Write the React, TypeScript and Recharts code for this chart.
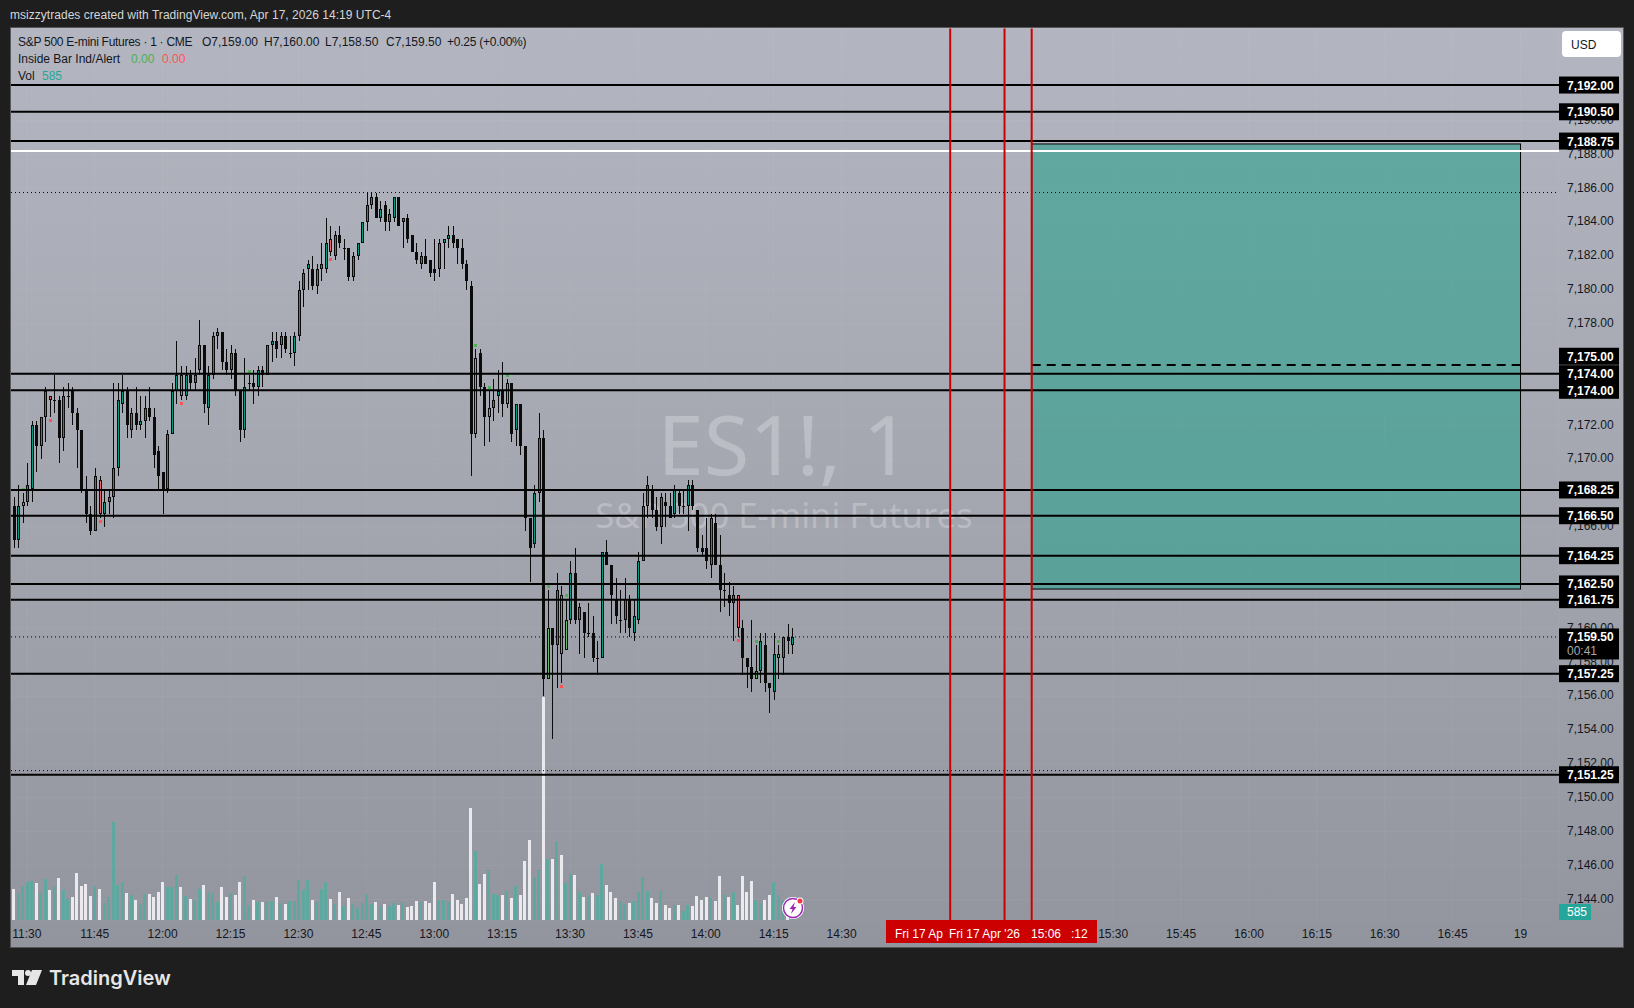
// App.tsx - ES1! one minute chart with drawn levels, volume and a position box
import { Bar, CartesianGrid, ComposedChart, ReferenceArea, ReferenceLine, XAxis, YAxis } from "recharts";

// ---- candles, 11:27 to 14:19, one value per minute ----
const opens = [
  7167.25, 7165.25, 7167.25, 7167.5, 7168.25, 7172, 7170.75, 7172.5, 7173.75, 7173.5,
  7173.5, 7171.25, 7173.75, 7174, 7172.75, 7171.75, 7168.25, 7166.75, 7165.75, 7168.75,
  7166.75, 7167.5, 7167.75, 7169.5, 7173.25, 7174, 7171.75, 7172.75, 7172, 7172.25,
  7173, 7172.5, 7170.5, 7169.25, 7168.25, 7171.5, 7174, 7175, 7173.75, 7175,
  7174.5, 7175.25, 7176.75, 7173, 7175, 7177.25, 7177.5, 7175.75, 7175.25, 7176.25,
  7174, 7171.75, 7174.5, 7174.5, 7174.25, 7175.25, 7175, 7176.75, 7177, 7176.75,
  7177.25, 7176.25, 7176.25, 7177.25, 7180, 7181.25, 7181.25, 7180.25, 7181.25, 7181.25,
  7183, 7182, 7183.25, 7182.5, 7182.5, 7180.75, 7182, 7182.75, 7184, 7185,
  7185.5, 7184.25, 7185, 7184, 7184.25, 7185.5, 7184, 7184.25, 7183.25, 7182.25,
  7181.5, 7182, 7181.75, 7181.25, 7181.25, 7182.75, 7183, 7183.25, 7183, 7182.5,
  7181.5, 7180.25, 7171.5, 7176.25, 7174.25, 7172.5, 7173, 7173.75, 7174, 7173.25,
  7174.5, 7171.75, 7173.25, 7170.75, 7166.5, 7165, 7168, 7171.25, 7157, 7160,
  7159, 7162, 7158.75, 7160.5, 7163.25, 7160.5, 7161, 7159.75, 7159.75, 7158.25,
  7158.25, 7164.5, 7163.75, 7161.75, 7160.5, 7160.5, 7161.75, 7159.75, 7160.5, 7164,
  7167.25, 7168.25, 7167, 7166, 7167.5, 7167.25, 7166.75, 7168, 7167.25, 7167.25,
  7168.5, 7167, 7164.75, 7164.75, 7163.75, 7166.25, 7163.75, 7162.25, 7162, 7161.5,
  7162, 7160, 7158.25, 7157.75, 7157, 7157.5, 7159, 7156.75, 7156.25, 7158.25,
  7158.25, 7159.5, 7159,
];
const highs = [
  7167.75, 7168.5, 7168, 7169.75, 7172.25, 7172.25, 7172.5, 7174.25, 7173.75, 7175,
  7173.75, 7174.25, 7174.5, 7174.25, 7173, 7171.75, 7169, 7167.25, 7169.5, 7169,
  7168.25, 7168.25, 7174.5, 7174.5, 7175, 7174.25, 7173, 7174.25, 7173.75, 7173.75,
  7174.25, 7173, 7170.75, 7169.25, 7171.75, 7174.5, 7177, 7175.5, 7175.5, 7175.25,
  7176, 7178.25, 7176.75, 7175.5, 7177.5, 7177.75, 7177.5, 7176.5, 7176.75, 7176.5,
  7174, 7176, 7175, 7175.25, 7175.5, 7175.5, 7176.75, 7177.5, 7177.5, 7177.5,
  7177.5, 7177.25, 7177.5, 7180.5, 7181.25, 7181.75, 7182, 7181.5, 7182.75, 7184.25,
  7183.75, 7183.5, 7183.75, 7183, 7182.5, 7182.25, 7182.75, 7184, 7185.75, 7185.75,
  7185.75, 7185.25, 7185.25, 7184.75, 7185.5, 7185.5, 7184.25, 7184.5, 7183.25, 7182.75,
  7182.25, 7183, 7181.75, 7183, 7183, 7183, 7183.75, 7183.75, 7183, 7183,
  7181.75, 7180.5, 7176.5, 7176.5, 7174.5, 7174, 7174.75, 7175.25, 7175.75, 7174.75,
  7174.5, 7173.25, 7173.25, 7170.75, 7166.5, 7168.5, 7172.75, 7171.75, 7162.25, 7160,
  7163.25, 7162.5, 7161.75, 7164, 7164.75, 7161.5, 7161, 7161.5, 7160.75, 7159.25,
  7164.5, 7165.25, 7163.75, 7163, 7162.25, 7163, 7162, 7161.75, 7164.5, 7168,
  7169, 7168.5, 7167.75, 7168, 7168, 7168, 7168.5, 7168.25, 7168.25, 7168.75,
  7168.75, 7167, 7165.5, 7166.5, 7166.75, 7166.75, 7165.5, 7163.25, 7162.75, 7162.5,
  7162, 7160.5, 7158.25, 7160.5, 7159, 7159.75, 7159.75, 7156.75, 7159.75, 7159,
  7159.5, 7160.25, 7160,
];
const lows = [
  7164.75, 7164.75, 7166.25, 7167.25, 7167.5, 7169.25, 7170, 7171, 7172.5, 7172.75,
  7169.75, 7170.5, 7173, 7172, 7169.5, 7168, 7166.25, 7165.5, 7165.75, 7166.5,
  7166, 7166.75, 7166.5, 7169, 7172.75, 7171.25, 7171.25, 7171.75, 7171.75, 7171.25,
  7172.25, 7169.5, 7168.25, 7166.75, 7168, 7171.5, 7173.25, 7173.5, 7173.5, 7174,
  7174, 7175, 7172.75, 7172, 7174.75, 7176.5, 7175.25, 7175, 7174.75, 7173.75,
  7171, 7171.25, 7174, 7173.25, 7173.75, 7174.25, 7175, 7175.75, 7176, 7176,
  7176.25, 7176, 7175.5, 7177, 7179, 7180, 7180, 7179.75, 7180.5, 7181,
  7182, 7181.75, 7182.5, 7181.75, 7180.5, 7180.5, 7181.75, 7182.75, 7183.5, 7184.75,
  7184.25, 7184, 7183.5, 7183.5, 7184, 7183.75, 7182.5, 7182.75, 7182.25, 7181.5,
  7181.25, 7181.5, 7180.75, 7180.5, 7180.75, 7181.25, 7182.5, 7182.5, 7181.5, 7181.25,
  7180, 7169, 7171.25, 7173.75, 7170.75, 7171, 7172.25, 7172.75, 7172.5, 7173,
  7171, 7170.75, 7170.25, 7165.75, 7162.75, 7164.75, 7167.5, 7156, 7157, 7153.5,
  7156.5, 7156.75, 7158.75, 7160.25, 7160.25, 7158.5, 7158.25, 7159.5, 7158, 7157.25,
  7158.25, 7163.75, 7160.25, 7160.25, 7159.75, 7159.75, 7159.5, 7159.25, 7160.25, 7164,
  7166.5, 7166.5, 7165.75, 7165, 7166, 7166.5, 7166.5, 7166.75, 7166.75, 7165.75,
  7167, 7164.5, 7164.25, 7163.5, 7163, 7163.75, 7161, 7161.25, 7160.75, 7159.25,
  7159.5, 7157.25, 7156.5, 7156.25, 7157, 7156.75, 7156.25, 7155, 7155.75, 7157,
  7157.25, 7158.5, 7158.5,
];
const closes = [
  7165.25, 7167.25, 7167.5, 7168.5, 7172, 7170.75, 7172.5, 7174, 7173.5, 7173.5,
  7171.25, 7173.75, 7173.75, 7172.75, 7171.75, 7168.25, 7166.75, 7165.75, 7169, 7166.75,
  7167.5, 7167.75, 7169.5, 7173.5, 7174, 7172, 7172.75, 7172, 7172.25, 7173,
  7172.5, 7170.25, 7169, 7168.25, 7171.5, 7174, 7175, 7173.75, 7175, 7174.5,
  7175, 7176.75, 7173.25, 7175, 7177.25, 7177.5, 7175.75, 7175.25, 7176.25, 7174,
  7171.75, 7174.25, 7174.5, 7174.25, 7175.25, 7175, 7176.75, 7177, 7176.5, 7177.25,
  7176.5, 7176.25, 7177.25, 7180, 7181, 7181.5, 7180.25, 7181.25, 7181.5, 7182.75,
  7182.25, 7183.25, 7182.75, 7182.5, 7180.75, 7182, 7182.75, 7184, 7185, 7185.5,
  7184.25, 7184.75, 7184, 7184.5, 7185.5, 7183.75, 7184.25, 7183, 7182.25, 7181.75,
  7182, 7181.5, 7181, 7181, 7182.75, 7183, 7183.25, 7182.75, 7182.5, 7181.5,
  7180.5, 7171.5, 7176, 7174.25, 7172.5, 7173, 7173.5, 7174, 7173.25, 7174.5,
  7171.5, 7173.25, 7170.75, 7166.5, 7164.75, 7168, 7171.25, 7157, 7160, 7159,
  7162.25, 7158.5, 7160.5, 7163.25, 7160.5, 7161.25, 7159.75, 7159.75, 7158.25, 7158.25,
  7164.5, 7163.75, 7162, 7160.75, 7160.5, 7161.75, 7160, 7160.75, 7164, 7167.25,
  7168.5, 7167, 7166, 7167.75, 7167.25, 7166.5, 7168.25, 7167.25, 7167.25, 7168.5,
  7167.25, 7164.75, 7164.5, 7164, 7166.5, 7163.75, 7162.25, 7162.25, 7161.5, 7162,
  7160, 7158.25, 7157.75, 7157, 7157.5, 7159.25, 7156.75, 7156.5, 7158.5, 7158.5,
  7159.5, 7159.25, 7159.5,
];
const volumes = [
  2790, 2430, 3060, 3420, 3510, 3330, 2430, 3690, 2700, 3060,
  3780, 2700, 1890, 2070, 4230, 3060, 3240, 2160, 3060, 2790,
  1530, 2070, 8820, 3150, 3420, 2430, 2250, 1800, 1440, 2340,
  2340, 2070, 2520, 3420, 2970, 2970, 4050, 2970, 2160, 1890,
  1800, 2790, 3150, 2520, 2430, 1620, 2970, 2070, 2430, 2250,
  3420, 3960, 1260, 1800, 1620, 1620, 1620, 1710, 2070, 1530,
  1440, 1710, 1710, 3600, 2700, 3600, 1800, 1620, 2790, 3420,
  1890, 1440, 2520, 1260, 1980, 1440, 1080, 1530, 2340, 1440,
  1620, 1170, 1440, 1260, 1530, 1350, 1620, 1170, 1260, 1710,
  1620, 1710, 1530, 3420, 1800, 1800, 1620, 2340, 1800, 1440,
  1980, 10080, 6210, 3240, 4140, 4500, 2340, 2250, 2250, 2610,
  1980, 3060, 2250, 5310, 7200, 3870, 4500, 20070, 5490, 5490,
  7110, 5850, 3330, 4140, 4050, 2520, 2070, 2160, 2430, 2250,
  5040, 3150, 2520, 1980, 1710, 1440, 1530, 1710, 2520, 3870,
  2610, 1980, 1530, 2610, 1350, 1080, 1350, 1350, 810, 1350,
  1260, 2160, 1800, 2070, 1980, 1710, 3960, 2250, 2070, 2520,
  1350, 3960, 2520, 3510, 1800, 1530, 1800, 2250, 3420, 2250,
  1800, 600, 585,
];

// inside bar indicator hits, as candle positions
const greenSignals = [2, 52, 102, 105, 109, 118, 122, 164, 169];
const redSignals = [8, 19, 37, 70, 121, 160];

// ---- axes. 14:45 to 15:15 sit under the red time tags, and the prices left out sit under level tags ----
const timeTicks = [
  "11:30", "11:45", "12:00", "12:15", "12:30", "12:45", "13:00", "13:15", "13:30", "13:45", "14:00",
  "14:15", "14:30", "15:30", "15:45", "16:00", "16:15", "16:30", "16:45", "17:00",
];
const priceTicks = [
  7144, 7146, 7148, 7150, 7152, 7154, 7156, 7158, 7160, 7166, 7170, 7172, 7178,
  7180, 7182, 7184, 7186, 7188, 7190,
];

// ---- drawings: where the line sits, what its tag says ----
const levelPrices = [
  7192.1, 7190.52, 7188.79, 7175.05, 7174.07, 7168.18, 7166.66, 7164.3, 7162.63, 7161.7, 7157.33, 7151.36,
];
const levelLabels = [
  "7,192.00", "7,190.50", "7,188.75", "7,174.00", "7,174.00", "7,168.25", "7,166.50", "7,164.25", "7,162.50",
  "7,161.75", "7,157.25", "7,151.25",
];
const redLineTimes = ["14:54", "15:06", "15:12"];
const whiteLine = 7188.2;
const sessionHigh = 7185.75;
const sessionLow = 7151.6;
const lastPrice = 7159.5;
const boxTop = 7188.62;
const boxBottom = 7162.33;
const boxMid = 7175.56;

const MINUTES_ON_AXIS = 342;
const START_MINUTE = 11 * 60 + 27;
const PRICE_DOMAIN = [7142.78, 7195.44];

const pad = (n: number) => String(n).padStart(2, "0");

const chartData = Array.from({ length: MINUTES_ON_AXIS }, (_, i) => {
  const m = START_MINUTE + i;
  const row: any = { t: `${pad(Math.floor(m / 60))}:${pad(m % 60)}` };
  if (i < opens.length) {
    row.o = opens[i];
    row.h = highs[i];
    row.l = lows[i];
    row.c = closes[i];
    row.range = [lows[i], highs[i]];
    row.vol = volumes[i];
    row.up = closes[i] >= opens[i];
    row.green = greenSignals.includes(i);
    row.red = redSignals.includes(i);
  }
  return row;
});

const UI_FONT = '"Liberation Sans", Arial, sans-serif';
const TEAL_BODY = "#089981";
const GREEN_BODY = "#66bb6a";
const RED_BODY = "#f0636a";

function Candle(props: any) {
  const { x, y, width, height, payload } = props;
  if (!payload || !payload.range) return null;
  const { o, h, l, c, up, green, red } = payload;
  const perPoint = height / (h - l);
  const toY = (p: number) => y + (h - p) * perPoint;
  const cx = Math.round(x + width / 2);
  const top = Math.round(toY(Math.max(o, c)));
  const bodyH = Math.max(1, Math.round(toY(Math.min(o, c))) - top);
  const fill = red ? RED_BODY : green ? GREEN_BODY : up ? TEAL_BODY : "#0b0b0b";
  return (
    <g shapeRendering="crispEdges">
      <rect x={cx} y={y} width={1} height={height} fill="#0b0b0b" />
      <rect x={cx - 1} y={top} width={3} height={bodyH} fill="#0b0b0b" />
      {bodyH > 2 && <rect x={cx} y={top + 1} width={1} height={bodyH - 2} fill={fill} />}
      {green && <polygon points={`${cx - 1},${y - 2} ${cx + 2},${y - 2} ${cx + 1.5},${y - 5} ${cx - 0.5},${y - 5}`} fill="#4caf50" />}
      {red && (
        <polygon
          points={`${cx - 1},${y + height + 2} ${cx + 2},${y + height + 2} ${cx + 1.5},${y + height + 5} ${cx - 0.5},${y + height + 5}`}
          fill="#ff5252"
        />
      )}
    </g>
  );
}

function VolumeBar(props: any) {
  const { x, y, width, height, payload } = props;
  if (!payload || payload.vol == null) return null;
  return (
    <rect
      x={Math.round(x)}
      y={y}
      width={width}
      height={height}
      fill={payload.up ? "#5fa8a0" : "#eaeaee"}
      shapeRendering="crispEdges"
    />
  );
}

// ReferenceArea runs from band edge to band edge, the box runs centre to centre
function PositionBox(props: any) {
  const halfBand = 2.26;
  return (
    <rect
      x={props.x + halfBand}
      y={props.y}
      width={props.width - 2 * halfBand}
      height={props.height}
      fill="#27a18c"
      fillOpacity={0.58}
      stroke="#000"
      strokeWidth={1}
    />
  );
}

// black tag on the price scale, hung on a reference line
const priceTag = (text: string, offset = 0, sub?: string) => (props: any) => {
  const vb = props.viewBox;
  const left = vb.x + vb.width;
  const mid = vb.y + offset;
  return (
    <g style={{ fontFamily: UI_FONT, fontSize: 12 }}>
      <rect x={left} y={mid - 8.5} width={60} height={sub ? 31 : 17} fill="#000" />
      <text x={left + 8} y={mid + 4.5} fill="#fff" fontWeight={700}>
        {text}
      </text>
      {sub && (
        <text x={left + 8} y={mid + 18.5} fill="#a8a8a8">
          {sub}
        </text>
      )}
    </g>
  );
};

function Txt({ x, y, color = "#131722", size = 12, spacing = 0, children }: any) {
  return (
    <span
      style={{
        position: "absolute",
        left: x,
        top: y - 8,
        lineHeight: "16px",
        fontSize: size,
        color,
        fontFamily: UI_FONT,
        letterSpacing: spacing,
        whiteSpace: "nowrap",
      }}
    >
      {children}
    </span>
  );
}

export default function App() {
  return (
    <div style={{ position: "absolute", left: 0, top: 0, width: 1634, height: 1008, background: "#1e1e1e", overflow: "hidden" }}>
      <style>{"html,body{margin:0;background:#1e1e1e;overflow:hidden}"}</style>

      {/* pane with watermark, under the chart */}
      <div
        style={{
          position: "absolute",
          left: 10,
          top: 27,
          width: 1612,
          height: 919,
          border: "1px solid #555",
          background: "linear-gradient(180deg,#b3b6c0 0%,#a4a6b0 50%,#93959e 100%)",
        }}
      />
      <div
        style={{
          position: "absolute",
          left: 384,
          width: 800,
          top: 391,
          textAlign: "center",
          fontFamily: '"Noto Sans", sans-serif',
          color: "rgba(255,255,255,0.25)",
          fontSize: 83,
          lineHeight: "104px",
        }}
      >
        ES1!, 1
      </div>
      <div
        style={{
          position: "absolute",
          left: 384,
          width: 800,
          top: 490,
          textAlign: "center",
          fontFamily: '"Noto Sans", sans-serif',
          color: "rgba(255,255,255,0.25)",
          fontSize: 34.7,
          lineHeight: "50px",
        }}
      >
        S&amp;P 500 E-mini Futures
      </div>

      {/* axes, box, volume and candles */}
      <div style={{ position: "absolute", left: 0, top: 0 }}>
        <ComposedChart
          width={1634}
          height={1008}
          data={chartData}
          margin={{ top: 28.5, right: 0, bottom: 61, left: 11 }}
          barCategoryGap={0}
        >
          <CartesianGrid stroke="rgba(255,255,255,0.05)" />
          <XAxis
            dataKey="t"
            type="category"
            scale="band"
            ticks={timeTicks}
            interval={0}
            height={27}
            axisLine={false}
            tickLine={false}
            tickMargin={3.5}
            tick={{ fontSize: 12, fill: "#131722", fontFamily: UI_FONT }}
            tickFormatter={(t: string) => (t === "17:00" ? "19" : t)}
          />
          <XAxis xAxisId="v" dataKey="t" type="category" scale="band" hide />
          <YAxis
            orientation="right"
            type="number"
            width={75}
            domain={PRICE_DOMAIN}
            ticks={priceTicks}
            interval={0}
            axisLine={false}
            tickLine={false}
            tickSize={0}
            tickMargin={8}
            tick={{ fontSize: 12, fill: "#131722", fontFamily: UI_FONT, dy: -1 }}
            tickFormatter={(v: number) => v.toLocaleString("en-US", { minimumFractionDigits: 2 })}
          />
          <YAxis yAxisId="v" type="number" domain={[0, 80235]} hide />

          <Bar
            xAxisId="v"
            yAxisId="v"
            dataKey="vol"
            barSize={3}
            isAnimationActive={false}
            shape={(p: any) => <VolumeBar {...p} />}
          />
          <ReferenceArea x1="15:12" x2="17:00" y1={boxBottom} y2={boxTop} shape={(p: any) => <PositionBox {...p} />} />
          <Bar dataKey="range" barSize={3} isAnimationActive={false} shape={(p: any) => <Candle {...p} />} />
        </ComposedChart>
      </div>

      {/* drawn lines and tags go on a second chart so they cover the axis labels */}
      <div style={{ position: "absolute", left: 0, top: 0 }}>
        <ComposedChart
          width={1634}
          height={1008}
          data={chartData}
          margin={{ top: 28.5, right: 75, bottom: 88, left: 11 }}
        >
          <XAxis dataKey="t" type="category" scale="band" hide />
          <YAxis type="number" domain={PRICE_DOMAIN} hide />
          {/* draws nothing, the scales want a series to work from */}
          <Bar dataKey="range" isAnimationActive={false} shape={() => null} />
          <ReferenceLine y={sessionHigh} stroke="#000" strokeWidth={1} strokeDasharray="1 3" />
          <ReferenceLine y={sessionLow} stroke="#000" strokeWidth={1} strokeDasharray="1 3" />
          <ReferenceLine y={whiteLine} stroke="#fff" strokeWidth={2} />
          <ReferenceLine
            y={lastPrice}
            stroke="#000"
            strokeWidth={1}
            strokeDasharray="1 3"
            label={priceTag("7,159.50", 0, "00:41")}
          />
          {/* box midline, its tag pushed up above the two 7,174 tags */}
          <ReferenceLine y={boxMid} stroke="none" label={priceTag("7,175.00", -8.8)} />
          <ReferenceLine
            segment={[
              { x: "15:12", y: boxMid },
              { x: "17:00", y: boxMid },
            ]}
            stroke="#000"
            strokeWidth={2}
            strokeDasharray="9 6"
          />
          {levelPrices.map((p, i) => (
            <ReferenceLine key={i} y={p} stroke="#000" strokeWidth={2} label={priceTag(levelLabels[i])} />
          ))}
          {redLineTimes.map((t) => (
            <ReferenceLine key={t} x={t} stroke="#cc0000" strokeWidth={2} />
          ))}
        </ComposedChart>
      </div>

      {/* header strip and legend */}
      <Txt x={10} y={15} color="#d6d6d6" spacing={0.03}>
        msizzytrades created with TradingView.com, Apr 17, 2026 14:19 UTC-4
      </Txt>
      <Txt x={18} y={42} spacing={-0.28}>S&amp;P 500 E-mini Futures · 1 · CME</Txt>
      <Txt x={202} y={42}>O7,159.00</Txt>
      <Txt x={264} y={42}>H7,160.00</Txt>
      <Txt x={325} y={42}>L7,158.50</Txt>
      <Txt x={386} y={42}>C7,159.50</Txt>
      <Txt x={447} y={42} spacing={-0.25}>+0.25 (+0.00%)</Txt>
      <Txt x={18} y={59}>Inside Bar Ind/Alert</Txt>
      <Txt x={131} y={59} color="#4caf50">0.00</Txt>
      <Txt x={162} y={59} color="#ff5252">0.00</Txt>
      <Txt x={18} y={76}>Vol</Txt>
      <Txt x={42} y={76} color="#26a69a">585</Txt>

      {/* currency button */}
      <div style={{ position: "absolute", left: 1562, top: 31, width: 59, height: 26, borderRadius: 4, background: "#fff" }} />
      <Txt x={1571} y={45}>USD</Txt>

      {/* red time tags over the axis */}
      <div style={{ position: "absolute", left: 886, top: 920, width: 211, height: 23, background: "#cc0000" }} />
      <Txt x={895} y={934} color="#fff">Fri 17 Ap</Txt>
      <Txt x={949} y={934} color="#fff">Fri 17 Apr '26</Txt>
      <Txt x={1031} y={934} color="#fff">15:06</Txt>
      <Txt x={1071} y={934} color="#fff">:12</Txt>

      {/* volume tag */}
      <div style={{ position: "absolute", left: 1559, top: 904, width: 32, height: 16, background: "#26a69a" }} />
      <Txt x={1567} y={912} color="#fff">585</Txt>

      {/* flash icon */}
      <svg style={{ position: "absolute", left: 780, top: 895 }} width={26} height={26} viewBox="0 0 26 26">
        <circle cx={13} cy={13} r={11} fill="#fff" />
        <circle cx={13} cy={13} r={9.5} fill="#fff" stroke="#9c27b0" strokeWidth={1.5} />
        <path d="M15 7 L9.5 14 L12.5 14 L11 19 L16.5 12 L13.5 12 Z" fill="#9c27b0" />
        <circle cx={20} cy={6} r={3.5} fill="#fff" />
        <circle cx={20} cy={6} r={2.5} fill="#f23645" />
      </svg>

      {/* logo */}
      <svg style={{ position: "absolute", left: 12, top: 970 }} width={30} height={16} viewBox="0 0 30 16">
        <path d="M0 0 H12 V15 H6 V6 H0 Z M14 15 L20 0 H30 L24 15 Z" fill="#e6e6e6" />
        <circle cx={16} cy={3} r={3} fill="#e6e6e6" />
      </svg>
      <span
        style={{
          position: "absolute",
          left: 49,
          top: 963,
          fontFamily: '"Inter", sans-serif',
          fontWeight: 600,
          fontSize: 20,
          lineHeight: "30px",
          color: "#e6e6e6",
        }}
      >
        TradingView
      </span>
    </div>
  );
}
